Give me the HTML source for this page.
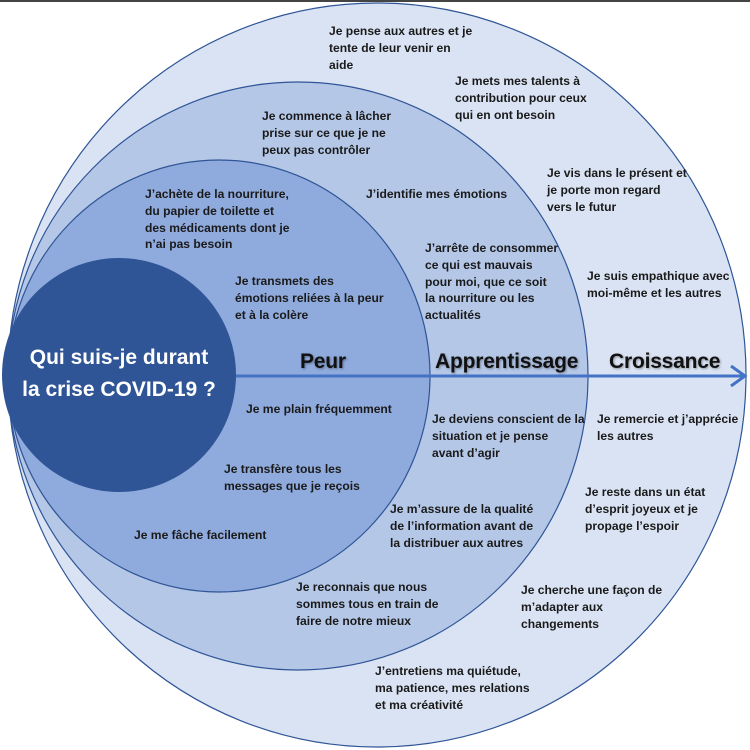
<!DOCTYPE html>
<html><head><meta charset="utf-8"><style>
body{margin:0;background:#fff}
.w{position:relative;width:750px;height:750px;overflow:hidden;font-family:"Liberation Sans",sans-serif}
.t{position:absolute;font-weight:bold;font-size:12.1px;line-height:16.8px;color:#1a1a1a;white-space:nowrap;letter-spacing:0}
.h{position:absolute;font-weight:bold;font-size:21px;color:#111;text-shadow:1px 1px 2px rgba(0,0,0,.35);letter-spacing:-0.2px}
</style></head><body><div class="w">
<svg width="750" height="750" style="position:absolute;left:0;top:0">
<rect x="0" y="0" width="750" height="2" fill="#444"/>
<ellipse cx="377" cy="375" rx="369" ry="372" fill="#dae3f3" stroke="#2f5597" stroke-width="1.2"/>
<ellipse cx="298" cy="376" rx="290" ry="294" fill="#b4c7e7" stroke="#2f5597" stroke-width="1.2"/>
<ellipse cx="219" cy="376" rx="211" ry="216" fill="#8faadc" stroke="#2f5597" stroke-width="1.2"/>
<circle cx="119" cy="375" r="117" fill="#2f5597"/>
<line x1="236" y1="376" x2="744" y2="376" stroke="#4472c4" stroke-width="3"/>
<polyline points="731,366 745,376 731,386" fill="none" stroke="#4472c4" stroke-width="3"/>
</svg>
<div style="position:absolute;left:2px;top:342px;width:234px;text-align:center;color:#fff;font-weight:bold;font-size:21px;line-height:32px">Qui suis-je durant<br>la crise COVID-19 ?</div>
<div class="h" style="left:300px;top:350px">Peur</div>
<div class="h" style="left:435px;top:350px">Apprentissage</div>
<div class="h" style="left:609px;top:350px">Croissance</div>
<div class="t" style="left:329px;top:23px">Je pense aux autres et je<br>tente de leur venir en<br>aide</div>
<div class="t" style="left:455px;top:73px">Je mets mes talents à<br>contribution pour ceux<br>qui en ont besoin</div>
<div class="t" style="left:262px;top:108px">Je commence à lâcher<br>prise sur ce que je ne<br>peux pas contrôler</div>
<div class="t" style="left:547px;top:165px">Je vis dans le présent et<br>je porte mon regard<br>vers le futur</div>
<div class="t" style="left:145px;top:186px">J’achète de la nourriture,<br>du papier de toilette et<br>des médicaments dont je<br>n’ai pas besoin</div>
<div class="t" style="left:366px;top:186px">J’identifie mes émotions</div>
<div class="t" style="left:425px;top:240px">J’arrête de consommer<br>ce qui est mauvais<br>pour moi, que ce soit<br>la nourriture ou les<br>actualités</div>
<div class="t" style="left:587px;top:268px">Je suis empathique avec<br>moi-même et les autres</div>
<div class="t" style="left:235px;top:273px">Je transmets des<br>émotions reliées à la peur<br>et à la colère</div>
<div class="t" style="left:246px;top:401px">Je me plain fréquemment</div>
<div class="t" style="left:432px;top:411px">Je deviens conscient de la<br>situation et je pense<br>avant d’agir</div>
<div class="t" style="left:597px;top:411px">Je remercie et j’apprécie<br>les autres</div>
<div class="t" style="left:224px;top:461px">Je transfère tous les<br>messages que je reçois</div>
<div class="t" style="left:585px;top:484px">Je reste dans un état<br>d’esprit joyeux et je<br>propage l’espoir</div>
<div class="t" style="left:390px;top:501px">Je m’assure de la qualité<br>de l’information avant de<br>la distribuer aux autres</div>
<div class="t" style="left:134px;top:527px">Je me fâche facilement</div>
<div class="t" style="left:296px;top:579px">Je reconnais que nous<br>sommes tous en train de<br>faire de notre mieux</div>
<div class="t" style="left:521px;top:582px">Je cherche une façon de<br>m’adapter aux<br>changements</div>
<div class="t" style="left:375px;top:663px">J’entretiens ma quiétude,<br>ma patience, mes relations<br>et ma créativité</div>
</div></body></html>
